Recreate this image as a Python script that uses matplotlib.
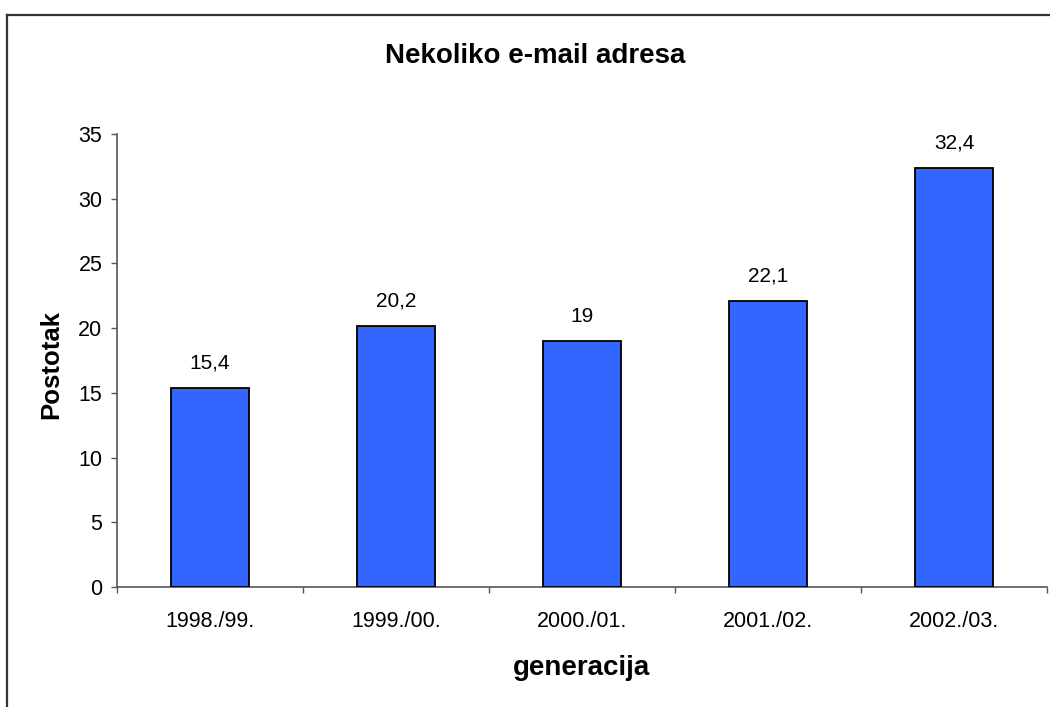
import matplotlib
matplotlib.use("Agg")
import matplotlib.pyplot as plt
from matplotlib.lines import Line2D

plt.rcParams['font.family'] = ['Liberation Sans', 'DejaVu Sans']

# --- data ---
generations = ["1998./99.", "1999./00.", "2000./01.", "2001./02.", "2002./03."]
percent = [15.4, 20.2, 19.0, 22.1, 32.4]
value_labels = ["15,4", "20,2", "19", "22,1", "32,4"]

fig = plt.figure(figsize=(10.5, 7.07), dpi=100)
ax = fig.add_axes([117 / 1050, 1 - 587 / 707, 930 / 1050, (587 - 134) / 707])

x = list(range(len(generations)))
ax.bar(x, percent, width=0.414, color='#3366ff', edgecolor='black', linewidth=1.3, zorder=3)

for xi, v, lab in zip(x, percent, value_labels):
    ax.annotate(lab, (xi, v), xytext=(0, 14), textcoords='offset points',
                ha='center', va='baseline', fontsize=15)

ax.set_xlim(-0.5, len(generations) - 0.5)
ax.set_ylim(0, 35)
ax.set_yticks(range(0, 36, 5))

# ticks at category boundaries, labels at centres
ax.set_xticks([i - 0.5 for i in range(len(generations) + 1)])
ax.set_xticklabels([])
ax.set_xticks(x, minor=True)
ax.set_xticklabels(generations, minor=True)
ax.tick_params(axis='x', which='major', direction='out', length=4.5, width=1, color='#555555')
ax.tick_params(axis='x', which='minor', length=0, pad=17, labelsize=15.5)
ax.tick_params(axis='y', direction='out', length=4.5, width=1, color='#555555', pad=6, labelsize=15.5)

for side in ['top', 'right']:
    ax.spines[side].set_visible(False)
for side in ['left', 'bottom']:
    ax.spines[side].set_color('#555555')
    ax.spines[side].set_linewidth(1.2)

# titles as figure text
fig.text(535 / 1050, 1 - 63 / 707, "Nekoliko e-mail adresa", ha='center', va='baseline',
         fontsize=20, fontweight='bold')
fig.text(51 / 1050, 1 - 365 / 707, "Postotak", ha='center', va='center', rotation=90,
         fontsize=18.5, fontweight='bold')
fig.text(582 / 1050, 1 - 675 / 707, "generacija", ha='center', va='baseline',
         fontsize=20, fontweight='bold')

# chart frame (only top/left visible in the crop)
fig.add_artist(Line2D([7 / 1050, 7 / 1050], [0, 1 - 15 / 707], transform=fig.transFigure,
                      color='#333333', linewidth=1.6))
fig.add_artist(Line2D([7 / 1050, 1], [1 - 15 / 707, 1 - 15 / 707], transform=fig.transFigure,
                      color='#333333', linewidth=1.6))

fig.savefig("out.png", dpi=100)
